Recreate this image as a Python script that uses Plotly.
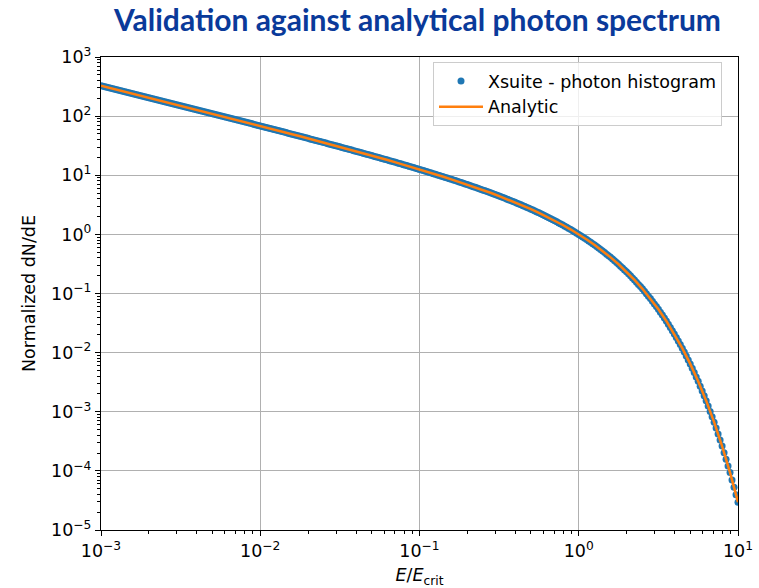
import numpy as np
import plotly.graph_objects as go

# ---------------------------------------------------------------------------
# Photon histogram (Xsuite): log10 of bin centre E/E_crit and log10 of dN/dE
# ---------------------------------------------------------------------------
hist_log10_x = [
    -3.0, -2.9875, -2.975, -2.9625, -2.95, -2.9375, -2.925, -2.9125,
    -2.9, -2.8875, -2.875, -2.8625, -2.85, -2.8375, -2.825, -2.8125,
    -2.8, -2.7875, -2.775, -2.7625, -2.75, -2.7375, -2.725, -2.7125,
    -2.7, -2.6875, -2.675, -2.6625, -2.65, -2.6375, -2.625, -2.6125,
    -2.6, -2.5875, -2.575, -2.5625, -2.55, -2.5375, -2.525, -2.5125,
    -2.5, -2.4875, -2.475, -2.4625, -2.45, -2.4375, -2.425, -2.4125,
    -2.4, -2.3875, -2.375, -2.3625, -2.35, -2.3375, -2.325, -2.3125,
    -2.3, -2.2875, -2.275, -2.2625, -2.25, -2.2375, -2.225, -2.2125,
    -2.2, -2.1875, -2.175, -2.1625, -2.15, -2.1375, -2.125, -2.1125,
    -2.1, -2.0875, -2.075, -2.0625, -2.05, -2.0375, -2.025, -2.0125,
    -2.0, -1.9875, -1.975, -1.9625, -1.95, -1.9375, -1.925, -1.9125,
    -1.9, -1.8875, -1.875, -1.8625, -1.85, -1.8375, -1.825, -1.8125,
    -1.8, -1.7875, -1.775, -1.7625, -1.75, -1.7375, -1.725, -1.7125,
    -1.7, -1.6875, -1.675, -1.6625, -1.65, -1.6375, -1.625, -1.6125,
    -1.6, -1.5875, -1.575, -1.5625, -1.55, -1.5375, -1.525, -1.5125,
    -1.5, -1.4875, -1.475, -1.4625, -1.45, -1.4375, -1.425, -1.4125,
    -1.4, -1.3875, -1.375, -1.3625, -1.35, -1.3375, -1.325, -1.3125,
    -1.3, -1.2875, -1.275, -1.2625, -1.25, -1.2375, -1.225, -1.2125,
    -1.2, -1.1875, -1.175, -1.1625, -1.15, -1.1375, -1.125, -1.1125,
    -1.1, -1.0875, -1.075, -1.0625, -1.05, -1.0375, -1.025, -1.0125,
    -1.0, -0.9875, -0.975, -0.9625, -0.95, -0.9375, -0.925, -0.9125,
    -0.9, -0.8875, -0.875, -0.8625, -0.85, -0.8375, -0.825, -0.8125,
    -0.8, -0.7875, -0.775, -0.7625, -0.75, -0.7375, -0.725, -0.7125,
    -0.7, -0.6875, -0.675, -0.6625, -0.65, -0.6375, -0.625, -0.6125,
    -0.6, -0.5875, -0.575, -0.5625, -0.55, -0.5375, -0.525, -0.5125,
    -0.5, -0.4875, -0.475, -0.4625, -0.45, -0.4375, -0.425, -0.4125,
    -0.4, -0.3875, -0.375, -0.3625, -0.35, -0.3375, -0.325, -0.3125,
    -0.3, -0.2875, -0.275, -0.2625, -0.25, -0.2375, -0.225, -0.2125,
    -0.2, -0.1875, -0.175, -0.1625, -0.15, -0.1375, -0.125, -0.1125,
    -0.1, -0.0875, -0.075, -0.0625, -0.05, -0.0375, -0.025, -0.0125,
    0.0, 0.0125, 0.025, 0.0375, 0.05, 0.0625, 0.075, 0.0875,
    0.1, 0.1125, 0.125, 0.1375, 0.15, 0.1625, 0.175, 0.1875,
    0.2, 0.2125, 0.225, 0.2375, 0.25, 0.2625, 0.275, 0.2875,
    0.3, 0.3125, 0.325, 0.3375, 0.35, 0.3625, 0.375, 0.3875,
    0.4, 0.4125, 0.425, 0.4375, 0.45, 0.4625, 0.475, 0.4875,
    0.5, 0.5125, 0.525, 0.5375, 0.55, 0.5625, 0.575, 0.5875,
    0.6, 0.6125, 0.625, 0.6375, 0.65, 0.6625, 0.675, 0.6875,
    0.7, 0.7125, 0.725, 0.7375, 0.75, 0.7625, 0.775, 0.7875,
    0.8, 0.8125, 0.825, 0.8375, 0.85, 0.8625, 0.875, 0.8875,
    0.9, 0.9125, 0.925, 0.9375, 0.95, 0.9625, 0.975, 0.9875,
    1.0,
]

hist_log10_y = [
    2.5148, 2.5064, 2.4980, 2.4896, 2.4812, 2.4728, 2.4644, 2.4560,
    2.4475, 2.4391, 2.4307, 2.4223, 2.4138, 2.4054, 2.3970, 2.3886,
    2.3801, 2.3717, 2.3633, 2.3548, 2.3464, 2.3380, 2.3295, 2.3211,
    2.3126, 2.3042, 2.2957, 2.2873, 2.2788, 2.2704, 2.2619, 2.2535,
    2.2450, 2.2365, 2.2281, 2.2196, 2.2111, 2.2026, 2.1942, 2.1857,
    2.1772, 2.1687, 2.1602, 2.1517, 2.1432, 2.1347, 2.1262, 2.1177,
    2.1092, 2.1007, 2.0921, 2.0836, 2.0751, 2.0666, 2.0580, 2.0495,
    2.0409, 2.0324, 2.0238, 2.0153, 2.0067, 1.9982, 1.9896, 1.9810,
    1.9725, 1.9639, 1.9553, 1.9467, 1.9381, 1.9295, 1.9209, 1.9123,
    1.9036, 1.8950, 1.8864, 1.8777, 1.8691, 1.8604, 1.8518, 1.8431,
    1.8345, 1.8258, 1.8171, 1.8084, 1.7997, 1.7910, 1.7823, 1.7736,
    1.7649, 1.7561, 1.7474, 1.7386, 1.7299, 1.7211, 1.7123, 1.7035,
    1.6947, 1.6859, 1.6771, 1.6683, 1.6595, 1.6506, 1.6417, 1.6329,
    1.6240, 1.6151, 1.6062, 1.5973, 1.5884, 1.5794, 1.5705, 1.5615,
    1.5526, 1.5436, 1.5346, 1.5255, 1.5165, 1.5075, 1.4984, 1.4894,
    1.4803, 1.4712, 1.4620, 1.4529, 1.4438, 1.4346, 1.4254, 1.4162,
    1.4070, 1.3977, 1.3884, 1.3792, 1.3699, 1.3605, 1.3512, 1.3418,
    1.3325, 1.3230, 1.3136, 1.3041, 1.2947, 1.2851, 1.2756, 1.2660,
    1.2565, 1.2468, 1.2372, 1.2275, 1.2179, 1.2081, 1.1983, 1.1886,
    1.1788, 1.1689, 1.1590, 1.1491, 1.1392, 1.1291, 1.1191, 1.1090,
    1.0990, 1.0888, 1.0786, 1.0684, 1.0582, 1.0478, 1.0374, 1.0270,
    1.0166, 1.0061, 0.9955, 0.9849, 0.9743, 0.9635, 0.9528, 0.9420,
    0.9312, 0.9201, 0.9091, 0.8981, 0.8871, 0.8758, 0.8645, 0.8532,
    0.8419, 0.8304, 0.8188, 0.8072, 0.7956, 0.7837, 0.7718, 0.7599,
    0.7480, 0.7358, 0.7235, 0.7112, 0.6990, 0.6863, 0.6737, 0.6610,
    0.6483, 0.6352, 0.6221, 0.6090, 0.5959, 0.5823, 0.5687, 0.5551,
    0.5415, 0.5274, 0.5132, 0.4991, 0.4849, 0.4702, 0.4554, 0.4406,
    0.4259, 0.4104, 0.3949, 0.3795, 0.3640, 0.3478, 0.3315, 0.3153,
    0.2991, 0.2819, 0.2648, 0.2477, 0.2306, 0.2126, 0.1945, 0.1764,
    0.1583, 0.1391, 0.1200, 0.1008, 0.0816, 0.0612, 0.0408, 0.0204,
    0.0000, -0.0218, -0.0436, -0.0654, -0.0872, -0.1105, -0.1338, -0.1572,
    -0.1805, -0.2056, -0.2307, -0.2557, -0.2808, -0.3079, -0.3349, -0.3619,
    -0.3890, -0.4182, -0.4475, -0.4767, -0.5059, -0.5376, -0.5694, -0.6011,
    -0.6328, -0.6673, -0.7018, -0.7363, -0.7708, -0.8084, -0.8461, -0.8837,
    -0.9213, -0.9625, -1.0036, -1.0448, -1.0860, -1.1311, -1.1762, -1.2214,
    -1.2665, -1.3161, -1.3657, -1.4152, -1.4648, -1.5195, -1.5741, -1.6287,
    -1.6833, -1.7436, -1.8038, -1.8641, -1.9243, -1.9909, -2.0575, -2.1241,
    -2.1907, -2.2645, -2.3382, -2.4120, -2.4857, -2.5675, -2.6492, -2.7310,
    -2.8128, -2.9035, -2.9943, -3.0851, -3.1758, -3.2767, -3.3776, -3.4785,
    -3.5794, -3.6917, -3.8040, -3.9163, -4.0286, -4.1536, -4.2787, -4.4037,
    -4.5287,
]

# ---------------------------------------------------------------------------
# Analytic synchrotron photon spectrum (normalised to 1 at E = E_crit)
# ---------------------------------------------------------------------------
analytic_log10_x = [
    -3.0, -2.95, -2.9, -2.85, -2.8, -2.75, -2.7, -2.65, -2.6, -2.55,
    -2.5, -2.45, -2.4, -2.35, -2.3, -2.25, -2.2, -2.15, -2.1, -2.05,
    -2.0, -1.95, -1.9, -1.85, -1.8, -1.75, -1.7, -1.65, -1.6, -1.55,
    -1.5, -1.45, -1.4, -1.35, -1.3, -1.25, -1.2, -1.15, -1.1, -1.05,
    -1.0, -0.95, -0.9, -0.85, -0.8, -0.75, -0.7, -0.65, -0.6, -0.55,
    -0.5, -0.45, -0.4, -0.35, -0.3, -0.25, -0.2, -0.15, -0.1, -0.05,
    0.0, 0.05, 0.1, 0.15, 0.2, 0.25, 0.3, 0.35, 0.4, 0.45,
    0.5, 0.55, 0.6, 0.65, 0.7, 0.75, 0.8, 0.85, 0.9, 0.95,
    1.0,
]
analytic_log10_y = [
    2.51480, 2.48118, 2.44752, 2.41384, 2.38014, 2.34640, 2.31263, 2.27883,
    2.24498, 2.21111, 2.17718, 2.14320, 2.10918, 2.07509, 2.04094, 2.00673,
    1.97245, 1.93808, 1.90364, 1.86910, 1.83446, 1.79972, 1.76486, 1.72987,
    1.69474, 1.65946, 1.62401, 1.58839, 1.55258, 1.51654, 1.48028, 1.44377,
    1.40698, 1.36989, 1.33247, 1.29468, 1.25650, 1.21789, 1.17879, 1.13918,
    1.09899, 1.05816, 1.01663, 0.97433, 0.93117, 0.88707, 0.84193, 0.79561,
    0.74801, 0.69897, 0.64834, 0.59593, 0.54154, 0.48493, 0.42585, 0.36401,
    0.29905, 0.23063, 0.15832, 0.08161, 0.00000, -0.08716, -0.18051, -0.28083,
    -0.38898, -0.50593, -0.63279, -0.77078, -0.92132, -1.08597, -1.26648,
    -1.46484, -1.68329, -1.92432, -2.19074, -2.48571, -2.81275, -3.17584,
    -3.57944, -4.02855, -4.52873,
]

# Axis ticks
x_tick_vals = [1e-3, 1e-2, 1e-1, 1e0, 1e1]
x_tick_text = ["10<sup>\u22123</sup>", "10<sup>\u22122</sup>", "10<sup>\u22121</sup>",
               "10<sup>0</sup>", "10<sup>1</sup>"]
y_tick_vals = [1e-5, 1e-4, 1e-3, 1e-2, 1e-1, 1e0, 1e1, 1e2, 1e3]
y_tick_text = ["10<sup>\u22125</sup>", "10<sup>\u22124</sup>", "10<sup>\u22123</sup>",
               "10<sup>\u22122</sup>", "10<sup>\u22121</sup>", "10<sup>0</sup>",
               "10<sup>1</sup>", "10<sup>2</sup>", "10<sup>3</sup>"]

x_minor = [m * 10.0 ** e for e in range(-3, 1) for m in range(2, 10)]
y_minor = [m * 10.0 ** e for e in range(-5, 3) for m in range(2, 10)]

hist_x = np.power(10.0, hist_log10_x)
hist_y = np.power(10.0, hist_log10_y)
analytic_x = np.power(10.0, analytic_log10_x)
analytic_y = np.power(10.0, analytic_log10_y)

FONT = "DejaVu Sans"
W, H = 759, 588
L, R, T, B = 101, 21, 57, 58

fig = go.Figure()
fig.add_trace(go.Scatter(
    x=hist_x, y=hist_y, mode="markers", name="Xsuite - photon histogram",
    marker=dict(color="#1f77b4", size=7, line=dict(width=0)),
))
fig.add_trace(go.Scatter(
    x=analytic_x, y=analytic_y, mode="lines", name="Analytic",
    line=dict(color="#ff7f0e", width=2.5),
))

axis_common = dict(
    type="log", showline=True, mirror=True, linecolor="black", linewidth=1.3,
    showgrid=True, gridcolor="#b0b0b0", gridwidth=1.1, zeroline=False,
    ticks="outside", ticklen=5, tickwidth=1.2, tickcolor="black",
    tickfont=dict(family=FONT, size=17.5, color="black"),
)

fig.update_xaxes(
    range=[-3, 1], tickmode="array", tickvals=x_tick_vals, ticktext=x_tick_text,
    minor=dict(tickmode="array", tickvals=x_minor, ticks="outside", ticklen=3,
               tickwidth=1, tickcolor="black", showgrid=False),
    title=dict(text="<i>E</i>/<i>E</i><sub>crit</sub>", standoff=8,
               font=dict(family=FONT, size=17.5, color="black")),
    **axis_common,
)
fig.update_yaxes(
    range=[-5, 3], tickmode="array", tickvals=y_tick_vals, ticktext=y_tick_text,
    minor=dict(tickmode="array", tickvals=y_minor, ticks="outside", ticklen=3,
               tickwidth=1, tickcolor="black", showgrid=False),
    title=dict(text="Normalized dN/dE", standoff=10,
               font=dict(family=FONT, size=17.5, color="black")),
    **axis_common,
)

fig.update_layout(
    width=W, height=H,
    margin=dict(l=L, r=R, t=T, b=B, autoexpand=False),
    paper_bgcolor="white", plot_bgcolor="white",
    font=dict(family=FONT, color="black"),
    title=dict(
        text="<b>Validation against analytical photon spectrum</b>",
        font=dict(family="Lato", size=30, color="#0a3a9a"),
        x=417.5 / W, xref="container", xanchor="center",
        y=1 - 20 / H, yref="container", yanchor="middle",
    ),
    legend=dict(
        x=(433 - L) / (W - L - R), y=(H - B - 62) / (H - T - B),
        xanchor="left", yanchor="top",
        bgcolor="rgba(255,255,255,0.8)", bordercolor="#cccccc", borderwidth=1,
        font=dict(family=FONT, size=17.5, color="black"),
        itemwidth=44,
    ),
    showlegend=True,
)

fig.write_html("out.html")
